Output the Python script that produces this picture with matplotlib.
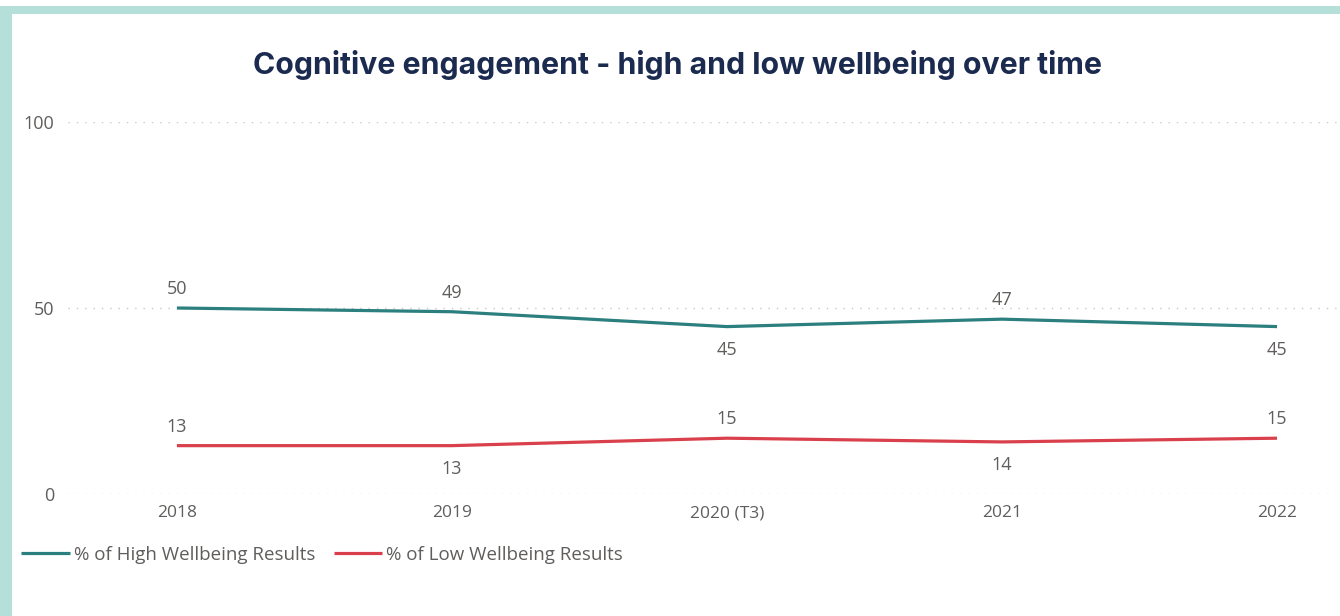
import matplotlib
matplotlib.use("Agg")
import matplotlib.pyplot as plt
from matplotlib.patches import Rectangle

plt.rcParams["font.family"] = ["Open Sans", "DejaVu Sans"]

# data
years = ["2018", "2019", "2020 (T3)", "2021", "2022"]
high_wellbeing = [50, 49, 45, 47, 45]
low_wellbeing = [13, 13, 15, 14, 15]
# label placement: +1 above the point, -1 below
high_label_side = [1, 1, -1, 1, -1]
low_label_side = [1, -1, 1, -1, 1]

teal = "#2b7f7e"
red = "#d9404b"
grey = "#605e5c"

fig = plt.figure(figsize=(13.4, 6.16), dpi=100)

# card frame (light teal band top and left)
fig.patches.append(Rectangle((0, 1 - 14 / 616), 1, 8 / 616, transform=fig.transFigure,
                             facecolor="#b5e0da", edgecolor="none", zorder=0))
fig.patches.append(Rectangle((0, 0), 12 / 1340, 1 - 6 / 616, transform=fig.transFigure,
                             facecolor="#b5e0da", edgecolor="none", zorder=0))

ax = fig.add_axes([68 / 1340, 122 / 616, (1340 - 68) / 1340, 372 / 616])
x = list(range(len(years)))

ax.plot(x, high_wellbeing, color=teal, lw=2.3, label="% of High Wellbeing Results",
        solid_capstyle="butt")
ax.plot(x, low_wellbeing, color=red, lw=2.3, label="% of Low Wellbeing Results",
        solid_capstyle="butt")


def label_points(vals, sides):
    for xi, v, s in zip(x, vals, sides):
        off = 13.5 if s > 0 else 16.5
        ax.annotate(str(v), (xi, v), xytext=(0, off * s), textcoords="offset points",
                    ha="center", va="center", fontsize=13, color=grey)


label_points(high_wellbeing, high_label_side)
label_points(low_wellbeing, low_label_side)

ax.set_xlim(-0.396, 4.229)
ax.set_ylim(0, 100)
ax.set_yticks([0, 50, 100])
ax.set_xticks(x)
ax.set_xticklabels(years)
ax.tick_params(axis="both", length=0, labelsize=12.5, labelcolor=grey)
ax.tick_params(axis="y", pad=10, labelsize=13)
ax.tick_params(axis="x", pad=8)
ax.grid(axis="y", linestyle=(0, (1, 5)), color="#c8c8c8", lw=1)
ax.set_axisbelow(True)
for sp in ax.spines.values():
    sp.set_visible(False)

fig.text(678 / 1340, 1 - 65 / 616, "Cognitive engagement - high and low wellbeing over time",
         ha="center", va="center", fontsize=21.8, fontweight="bold",
         color="#1b2b4f", family=["Inter", "DejaVu Sans"])

leg = ax.legend(loc="center left", bbox_to_anchor=(21 / 1340, 1 - 555 / 616),
                bbox_transform=fig.transFigure, ncol=2, frameon=False,
                fontsize=13.5, handlelength=2.6, handletextpad=0.2,
                columnspacing=1.0, borderaxespad=0, borderpad=0)
for t in leg.get_texts():
    t.set_color(grey)

fig.savefig("out.png", dpi=100)
